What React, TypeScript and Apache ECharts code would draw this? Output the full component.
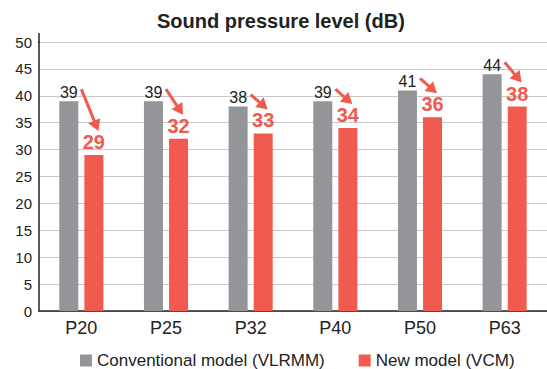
import React, { useEffect, useRef } from "react";
import * as echarts from "echarts";

const categories = ["P20", "P25", "P32", "P40", "P50", "P63"];
const conventional = [39, 39, 38, 39, 41, 44];
const newModel = [29, 32, 33, 34, 36, 38];
const yTicks = { min: 0, max: 50, interval: 5 };

const GRAY = "#939598";
const RED = "#f15a4f";
const FONT = "'Liberation Sans', Arial, sans-serif";

export default function App() {
  const ref = useRef<HTMLDivElement>(null);
  useEffect(() => {
    if (!ref.current) return;
    const chart = echarts.init(ref.current, null, { renderer: "svg" });
    const arrowData = categories.map((_, i) => [i, conventional[i], newModel[i]]);
    chart.setOption({
      animation: false,
      textStyle: { fontFamily: FONT },
      title: {
        text: "Sound pressure level (dB)",
        left: 152,
        top: 6,
        textStyle: { fontFamily: FONT, fontSize: 20, fontWeight: "bold", color: "#222" },
      },
      legend: {
        left: 75,
        top: 347,
        itemWidth: 12,
        itemHeight: 12,
        itemGap: 34,
        icon: "rect",
        data: ["Conventional model (VLRMM)", "New model (VCM)"],
        textStyle: { fontFamily: FONT, fontSize: 17, color: "#222" },
      },
      grid: { left: 39, right: 0, top: 42, bottom: 58 },
      xAxis: {
        type: "category",
        data: categories,
        axisLine: { lineStyle: { color: "#222", width: 1.5 } },
        axisTick: { show: false },
        axisLabel: { fontFamily: FONT, fontSize: 18, color: "#222", margin: 8 },
      },
      yAxis: {
        type: "value",
        min: yTicks.min,
        max: yTicks.max,
        interval: yTicks.interval,
        axisLine: { show: true, lineStyle: { color: "#222", width: 1.5 } },
        axisTick: { show: false },
        splitLine: { lineStyle: { color: "#c9c9c9", width: 1 } },
        axisLabel: { fontFamily: FONT, fontSize: 15, color: "#222", margin: 7 },
      },
      graphic: [
        {
          type: "line",
          shape: { x1: 39, y1: 33, x2: 39, y2: 43 },
          style: { stroke: "#222", lineWidth: 1.5 },
        },
      ],
      series: [
        {
          name: "Conventional model (VLRMM)",
          type: "bar",
          data: conventional,
          barWidth: 19,
          barGap: "32%",
          itemStyle: { color: GRAY },
          label: {
            show: true,
            position: "top",
            distance: 1,
            fontFamily: FONT,
            fontSize: 16,
            color: "#222",
          },
        },
        {
          name: "New model (VCM)",
          type: "bar",
          data: newModel,
          barWidth: 19,
          itemStyle: { color: RED },
          label: {
            show: true,
            position: "top",
            distance: 3,
            fontFamily: FONT,
            fontSize: 20,
            fontWeight: "bold",
            color: RED,
          },
        },
        {
          type: "custom",
          data: arrowData,
          encode: { x: 0, y: 1 },
          silent: true,
          z: 10,
          renderItem: (params: any, api: any) => {
            const i = api.value(0);
            const g = api.value(1);
            const r = api.value(2);
            const p0 = api.coord([i, g]);
            const p1 = api.coord([i, r]);
            const sx = p0[0];
            const sy = p0[1] - 12;
            const ex = p0[0] + 17;
            const ey = p1[1] - 24;
            const dx = ex - sx;
            const dy = ey - sy;
            const len = Math.sqrt(dx * dx + dy * dy);
            const ux = dx / len;
            const uy = dy / len;
            const nx = -uy;
            const ny = ux;
            const L = 11;
            const W = 6.5;
            const bx = ex - ux * L;
            const by = ey - uy * L;
            return {
              type: "group",
              children: [
                {
                  type: "line",
                  shape: { x1: sx, y1: sy, x2: bx + ux * 2, y2: by + uy * 2 },
                  style: { stroke: RED, lineWidth: 3 },
                },
                {
                  type: "polygon",
                  shape: {
                    points: [
                      [ex, ey],
                      [bx + nx * W, by + ny * W],
                      [bx - nx * W, by - ny * W],
                    ],
                  },
                  style: { fill: RED },
                },
              ],
            };
          },
        },
      ],
    });
    return () => chart.dispose();
  }, []);
  return (
    <div
      ref={ref}
      style={{ position: "absolute", left: 0, top: 0, width: 547, height: 369, background: "#fff" }}
    />
  );
}
